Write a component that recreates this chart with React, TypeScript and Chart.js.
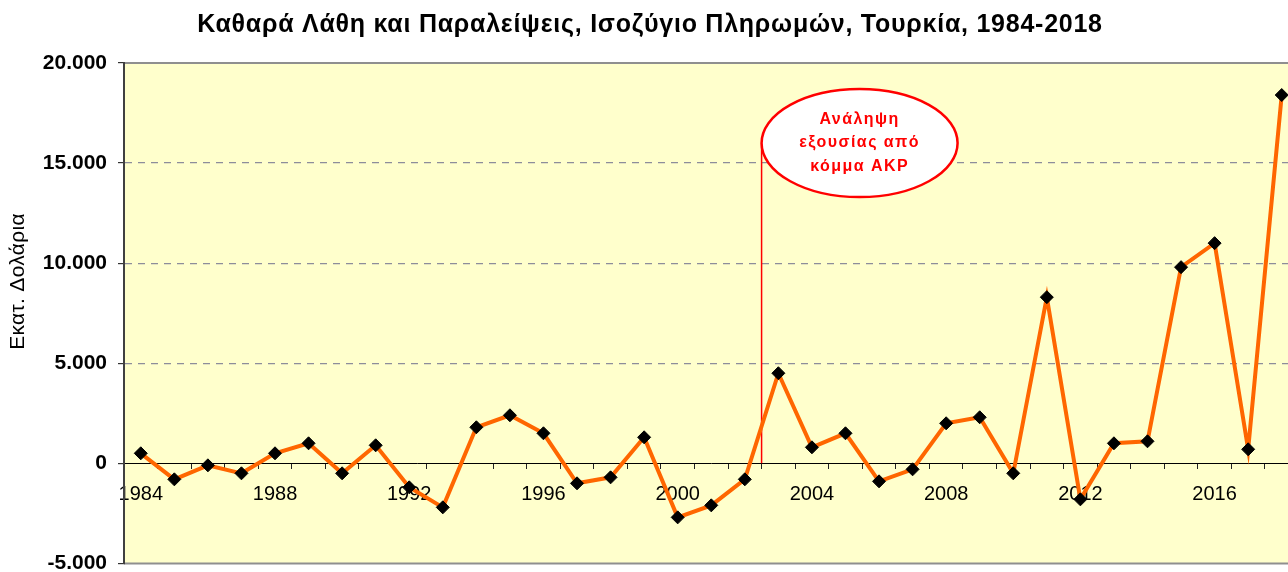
import React, { useEffect, useRef } from 'react';
import { Chart, registerables } from 'chart.js';

Chart.register(...registerables);

const chartTitle = 'Καθαρά Λάθη και Παραλείψεις, Ισοζύγιο Πληρωμών, Τουρκία, 1984-2018';
const yAxisTitle = 'Εκατ. Δολάρια';

const years = [
  '1984', '1985', '1986', '1987', '1988', '1989', '1990', '1991', '1992', '1993',
  '1994', '1995', '1996', '1997', '1998', '1999', '2000', '2001', '2002', '2003',
  '2004', '2005', '2006', '2007', '2008', '2009', '2010', '2011', '2012', '2013',
  '2014', '2015', '2016', '2017', '2018',
];

const netErrors = [
  500, -800, -100, -500, 500, 1000, -500, 900, -1200, -2200,
  1800, 2400, 1500, -1000, -700, 1300, -2700, -2100, -800, 4500,
  800, 1500, -900, -300, 2000, 2300, -500, 8300, -1800, 1000,
  1100, 9800, 11000, 700, 18400,
];

const yMin = -5000;
const yMax = 20000;
const yStep = 5000;

// annotation: AKP takes power (between 2002 and 2003)
const eventIndex = 18.5;
const eventLabelValue = 16000;
const eventLabelLines = ['Ανάληψη', 'εξουσίας από', 'κόμμα AKP'];

const FONT = "'Liberation Sans', Arial, sans-serif";
const CANVAS_W = 1306;
const CANVAS_H = 587;

function fmt(v: number): string {
  const s = Math.abs(v).toString().replace(/\B(?=(\d{3})+(?!\d))/g, '.');
  return (v < 0 ? '-' : '') + s;
}

const framePlugin = {
  id: 'frame',
  beforeDraw(chart: any) {
    const { ctx, chartArea: a } = chart;
    ctx.save();
    ctx.fillStyle = '#FFFFCC';
    ctx.fillRect(a.left, a.top, a.right - a.left, a.bottom - a.top);
    ctx.strokeStyle = '#8f8f8f';
    ctx.lineWidth = 2;
    ctx.beginPath();
    ctx.moveTo(a.left, a.top);
    ctx.lineTo(a.right, a.top);
    ctx.moveTo(a.left, a.bottom);
    ctx.lineTo(a.right, a.bottom);
    ctx.stroke();

    // chart title
    ctx.fillStyle = '#000000';
    ctx.font = `bold 25px ${FONT}`;
    (ctx as any).letterSpacing = '0.75px';
    ctx.textAlign = 'center';
    ctx.textBaseline = 'alphabetic';
    ctx.fillText(chartTitle, 650, 32);

    // y axis title
    ctx.font = `21px ${FONT}`;
    (ctx as any).letterSpacing = '0.3px';
    ctx.translate(24, 281.5);
    ctx.rotate(-Math.PI / 2);
    ctx.textBaseline = 'alphabetic';
    ctx.fillText(yAxisTitle, 0, 0);
    ctx.restore();
  },
  beforeDatasetsDraw(chart: any) {
    const { ctx } = chart;
    const xs = chart.scales.x;
    const ys = chart.scales.y;
    const x = xs.getPixelForValue(eventIndex);
    ctx.save();
    ctx.strokeStyle = '#FF0000';
    ctx.lineWidth = 1.5;
    ctx.beginPath();
    ctx.moveTo(x, ys.getPixelForValue(0));
    ctx.lineTo(x, ys.getPixelForValue(eventLabelValue));
    ctx.stroke();
    ctx.restore();
  },
  afterDatasetsDraw(chart: any) {
    const { ctx } = chart;
    const xs = chart.scales.x;
    const ys = chart.scales.y;
    const rx = 98;
    const ry = 54;
    const cx = xs.getPixelForValue(eventIndex) + rx;
    const cy = ys.getPixelForValue(eventLabelValue);
    ctx.save();
    ctx.beginPath();
    ctx.ellipse(cx, cy, rx, ry, 0, 0, Math.PI * 2);
    ctx.fillStyle = '#FFFFFF';
    ctx.fill();
    ctx.strokeStyle = '#FF0000';
    ctx.lineWidth = 2.5;
    ctx.stroke();
    ctx.fillStyle = '#FF0000';
    ctx.font = `bold 16px ${FONT}`;
    (ctx as any).letterSpacing = '1.45px';
    ctx.textAlign = 'center';
    ctx.textBaseline = 'middle';
    const lh = 23.5;
    eventLabelLines.forEach((line, i) => {
      ctx.fillText(line, cx, cy + (i - 1) * lh);
    });
    ctx.restore();
  },
};

export default function App() {
  const canvasRef = useRef<HTMLCanvasElement | null>(null);

  useEffect(() => {
    const canvas = canvasRef.current;
    if (!canvas) return;
    Chart.defaults.font.family = FONT;
    Chart.defaults.color = '#000000';
    const chart = new Chart(canvas, {
      type: 'line',
      data: {
        labels: years,
        datasets: [
          {
            data: netErrors,
            borderColor: '#FF6600',
            borderWidth: 4,
            pointStyle: 'rectRot',
            pointRadius: 6.5,
            pointBackgroundColor: '#000000',
            pointBorderColor: '#000000',
            pointBorderWidth: 1,
            tension: 0,
          },
        ],
      },
      options: {
        animation: false,
        responsive: false,
        maintainAspectRatio: false,
        layout: { padding: { top: 63, left: 0, right: 0, bottom: 0 } },
        plugins: {
          legend: { display: false },
          tooltip: { enabled: false },
          title: { display: false },
        },
        scales: {
          x: {
            type: 'category',
            position: { y: 0 } as any,
            offset: true,
            grid: {
              offset: true,
              drawOnChartArea: false,
              drawTicks: true,
              tickLength: 5,
              tickColor: '#222222',
              tickWidth: 1,
            },
            border: { display: true, color: '#000000', width: 1 },
            ticks: {
              autoSkip: false,
              maxRotation: 0,
              minRotation: 0,
              padding: 14,
              color: '#000000',
              font: { family: FONT, size: 20 },
              callback: (_v: any, i: number) => (Number(years[i]) % 4 === 0 ? years[i] : ''),
            },
          },
          y: {
            min: yMin,
            max: yMax,
            afterFit: (s: any) => {
              s.width = 124;
            },
            grid: {
              drawTicks: true,
              tickLength: 6,
              tickColor: '#333333',
              lineWidth: 1.2,
              color: (c: any) => {
                const v = c.tick ? c.tick.value : 0;
                return v > yMin && v < yMax && v !== 0 ? '#8d8d9a' : 'rgba(0,0,0,0)';
              },
            },
            border: { display: true, color: '#404040', width: 2, dash: [7, 6] },
            ticks: {
              stepSize: yStep,
              padding: 11,
              color: '#000000',
              font: { family: FONT, size: 21, weight: 'bold' },
              callback: (v: any) => fmt(Number(v)),
            },
          },
        },
      },
      plugins: [framePlugin],
    });
    return () => chart.destroy();
  }, []);

  return (
    <div style={{ position: 'fixed', left: 0, top: 0, width: CANVAS_W, height: CANVAS_H, background: '#FFFFFF' }}>
      <canvas
        ref={canvasRef}
        width={CANVAS_W}
        height={CANVAS_H}
        style={{ width: CANVAS_W, height: CANVAS_H, display: 'block' }}
      />
    </div>
  );
}
